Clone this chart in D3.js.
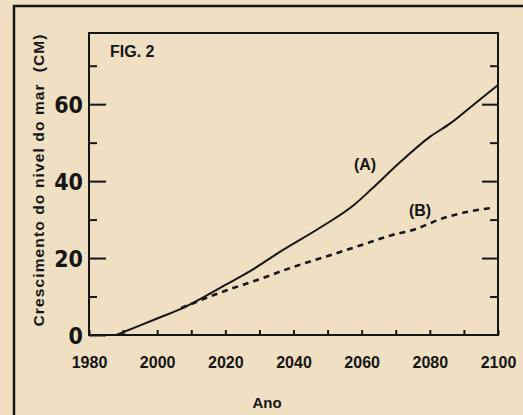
<!DOCTYPE html>
<html>
<head>
<meta charset="utf-8">
<script src="https://cdn.jsdelivr.net/npm/d3@7"></script>
<style>
  body { margin: 0; background: #efdfc3; }
  svg { display: block; }
  text { fill: #151515; font-family: "Liberation Sans", Arial, sans-serif; font-weight: bold; }
</style>
</head>
<body>
<svg id="chart" width="523" height="415"></svg>
<script>
// curve A (solid) - years and sea level rise in cm
const years_a = [1988, 1995, 2000, 2008, 2020, 2028, 2036, 2048, 2058, 2063, 2071, 2080, 2086, 2093, 2100]
const rise_a = [0, 2.5, 4.3, 7.2, 13, 17, 21.6, 28, 34, 38, 44.7, 51.5, 55, 60, 65]
// curve B (dashed)
const years_b = [2007, 2020, 2030, 2039, 2051, 2060, 2069, 2075, 2084, 2094, 2098]
const rise_b = [7, 11.5, 14.5, 17.4, 20.8, 23.4, 26, 27.3, 30.4, 32.5, 33]

const x_major = [1980, 2000, 2020, 2040, 2060, 2080, 2100]
const x_minor = [1990, 2010, 2030, 2050, 2070, 2090]
const y_major = [0, 20, 40, 60]
const y_minor = [10, 30, 50, 70]

const svg = d3.select("#chart")

const x = d3.scaleLinear()
    .domain([1980, 2100])
    .range([89, 498]);

const y = d3.scaleLinear()
    .domain([0, 78.5])
    .range([335, 33]);

// outer frame of the figure
svg.append("path")
    .attr("fill", "none")
    .attr("stroke", "#151515")
    .attr("stroke-width", 2.5)
    .attr("d", "M14,420 L14,6 L530,6");

// plot frame
svg.append("rect")
    .attr("x", x(1980))
    .attr("y", y(78.5))
    .attr("width", x(2100) - x(1980))
    .attr("height", y(0) - y(78.5))
    .attr("fill", "none")
    .attr("stroke", "#151515")
    .attr("stroke-width", 2);

// left axis - ticks point inward
const left_major = svg.append("g")
    .attr("transform", `translate(${x(1980)},0)`)
    .call(d3.axisLeft(y).tickValues(y_major).tickSizeInner(-17).tickSizeOuter(0).tickPadding(6))
left_major.selectAll("text")
    .style("font-family", "'Liberation Sans Narrow', 'DejaVu Sans Condensed', sans-serif")
    .style("font-size", "23px")
    .attr("dy", "0.36em");

svg.append("g")
    .attr("transform", `translate(${x(1980)},0)`)
    .call(d3.axisLeft(y).tickValues(y_minor).tickSizeInner(-8).tickSizeOuter(0).tickFormat(""))

// right axis ticks, no labels
svg.append("g")
    .attr("transform", `translate(${x(2100)},0)`)
    .call(d3.axisLeft(y).tickValues(y_major.slice(1)).tickSizeInner(16).tickSizeOuter(0).tickFormat(""))
svg.append("g")
    .attr("transform", `translate(${x(2100)},0)`)
    .call(d3.axisLeft(y).tickValues(y_minor).tickSizeInner(8).tickSizeOuter(0).tickFormat(""))

// bottom axis
const bottom = svg.append("g")
    .attr("transform", `translate(0,${y(0)})`)
    .call(d3.axisBottom(x).tickValues(x_major).tickSizeInner(-5).tickSizeOuter(0).tickPadding(22).tickFormat(d3.format("d")))
bottom.selectAll("text").style("font-size", "16px");

svg.append("g")
    .attr("transform", `translate(0,${y(0)})`)
    .call(d3.axisBottom(x).tickValues(x_minor).tickSizeInner(-5).tickSizeOuter(0).tickFormat(""))

svg.selectAll(".domain").remove();
svg.selectAll(".tick line").attr("stroke", "#151515").attr("stroke-width", 2);

const line = d3.line()
    .x(d => x(d[0]))
    .y(d => y(d[1]))
    .curve(d3.curveMonotoneX);

svg.append("path")
    .datum(d3.zip(years_a, rise_a))
    .attr("fill", "none")
    .attr("stroke", "#151515")
    .attr("stroke-width", 2)
    .attr("d", line);

svg.append("path")
    .datum(d3.zip(years_b, rise_b))
    .attr("fill", "none")
    .attr("stroke", "#151515")
    .attr("stroke-width", 2.6)
    .attr("stroke-dasharray", "6,5")
    .attr("d", line);

// labels
svg.append("text")
    .attr("x", 110)
    .attr("y", 57)
    .style("font-size", "16px")
    .text("FIG. 2");

svg.append("text")
    .attr("x", 365)
    .attr("y", 170)
    .attr("text-anchor", "middle")
    .style("font-size", "16px")
    .text("(A)");

svg.append("text")
    .attr("x", 420)
    .attr("y", 216)
    .attr("text-anchor", "middle")
    .style("font-size", "16px")
    .text("(B)");

svg.append("text")
    .attr("x", 267)
    .attr("y", 408)
    .attr("text-anchor", "middle")
    .style("font-size", "15px")
    .text("Ano");

svg.append("text")
    .attr("transform", `translate(44,${(33 + 328) / 2}) rotate(-90)`)
    .attr("text-anchor", "middle")
    .style("font-size", "15.5px")
    .attr("textLength", 292)
    .attr("lengthAdjust", "spacing")
    .attr("xml:space", "preserve")
    .text("Crescimento do nivel do mar  (CM)");
</script>
</body>
</html>
